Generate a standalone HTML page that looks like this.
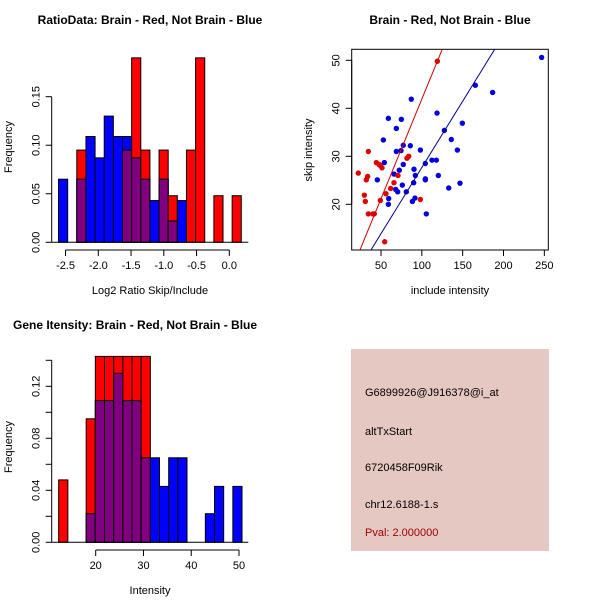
<!DOCTYPE html>
<html><head><meta charset="utf-8"><style>
html,body{margin:0;padding:0;background:#fff;}
svg{display:block;font-family:"Liberation Sans",sans-serif;}
</style></head><body>
<svg id="root" width="600" height="600" viewBox="0 0 600 600">
<g id="p1"></g>
<g id="p2"></g>
<g id="p3"></g>
<g id="p4">
<rect x="351" y="349" width="198" height="202" fill="#E6C8C2"/>
<text x="365" y="396" font-size="11">G6899926@J916378@i_at</text>
<text x="365" y="435" font-size="11">altTxStart</text>
<text x="365" y="471" font-size="11">6720458F09Rik</text>
<text x="365" y="508" font-size="11">chr12.6188-1.s</text>
<text x="365" y="536" font-size="11" fill="#A00000">Pval: 2.000000</text>
</g>
</svg>
<script>
// ---- data ----
const ratioBinStart = -2.607;
const ratioBinWidth = 0.1395;
const ratioBlue = [0.065,0,0.065,0.109,0.087,0.130,0.109,0.109,0.087,0.065,0.043,0.065,0.022,0.043,0,0,0,0,0,0];
const ratioRed  = [0,0,0.095,0,0,0,0,0.095,0.19,0.095,0,0.095,0.048,0,0.095,0.19,0,0.048,0,0.048];
const ratioXTicks = [-2.5,-2.0,-1.5,-1.0,-0.5,0.0];
const ratioXLabels = ["-2.5","-2.0","-1.5","-1.0","-0.5","0.0"];
const ratioYTicks = [0,0.05,0.10,0.15];
const ratioYLabels = ["0.00","0.05","0.10","0.15"];

const geneBinStart = 12.25;
const geneBinWidth = 1.919;
const geneBlue = [0,0,0,0.022,0.109,0.109,0.130,0.109,0.109,0.065,0.065,0.043,0.065,0.065,0,0,0.022,0.043,0,0.043];
const geneRed  = [0.048,0,0,0.095,0.143,0.143,0.143,0.143,0.143,0.143,0,0,0,0,0,0,0,0,0,0];
const geneXTicks = [20,30,40,50];
const geneYTicks = [0,0.02,0.04,0.06,0.08,0.10,0.12,0.14];
const geneYLabels = {"0":"0.00","0.04":"0.04","0.08":"0.08","0.12":"0.12"};

const redX = [22.2,29.6,30.8,34.5,32.0,33.7,34.5,40.2,41.8,44.3,47.6,49.2,51.2,49.2,56.1,54.5,61.8,65.9,70.8,81.8,83.9,98.2,119];
const redY = [26.5,21.9,20.6,31.0,25.1,25.8,18.0,18.0,18.0,28.7,28.3,28.1,27.6,20.8,22.2,12.2,23.3,24.5,26.0,29.6,30.0,21.0,49.8];
const blueX = [52.9,54.1,45.5,59.0,68.8,74.9,87.1,68.8,74.5,85.9,77.3,72.4,65.9,68.0,70.4,76.1,59.4,59.0,81.0,88.4,91.6,90.0,90.4,92.0,98.2,104.3,104.3,104.3,105.5,112.4,117.8,118.6,120.2,127.6,132.9,136.1,143.5,146.7,149.6,165.5,186.7,246.7,77.3];
const blueY = [33.4,28.7,25.1,37.9,35.8,37.7,41.9,31.0,31.2,32.2,28.3,27.1,26.3,23.1,22.6,24.0,21.2,20.0,22.6,20.6,21.3,24.5,27.3,26.0,31.3,28.5,25.3,25.1,18.0,29.2,29.2,39.0,26.0,35.4,23.4,33.5,31.3,24.4,36.9,44.8,43.3,50.6,32.3];
const redFit = [0.42,0.415];   // intercept, slope
const blueFit = [0.07,0.276];
const scXTicks = [50,100,150,200,250];
const scYTicks = [20,30,40,50];

const NS="http://www.w3.org/2000/svg";
function mk(parent,tag,attrs,text){const e=document.createElementNS(NS,tag);for(const k in attrs)e.setAttribute(k,attrs[k]);if(text!==undefined)e.textContent=text;parent.appendChild(e);return e;}

function histogram(g,cfg){
  const sx=v=>cfg.x0px+(v-cfg.x0v)*cfg.kx;
  const sy=v=>cfg.y0px-v*cfg.ky;
  const n=cfg.blue.length;
  for(let i=0;i<n;i++){
    const a=cfg.start+i*cfg.w,b=a+cfg.w;
    const bv=cfg.blue[i],rv=cfg.red[i];
    const draw=(v,col,nm)=>{if(v<=0)return;const r=mk(g,'rect',{x:sx(a),y:sy(v),width:sx(b)-sx(a),height:sy(0)-sy(v),fill:col,stroke:'#000','stroke-width':1});
      
      };
    draw(bv,'#0000FF','bar-blue-'+i);
    draw(rv,'#FF0000','bar-red-'+i);
    draw(Math.min(bv,rv),'#800080','bar-overlap-'+i);
  }
  const l=mk(g,'line',{x1:cfg.left,x2:cfg.right,y1:sy(0),y2:sy(0),stroke:'#000'});
  
  
}
function yAxis(g,x,ticks,sy,labels,name){
  const ax=mk(g,'g',{});
  
  
  mk(ax,'line',{x1:x,x2:x,y1:sy(ticks[0]),y2:sy(ticks[ticks.length-1]),stroke:'#000'});
  ticks.forEach((t,i)=>{const y=sy(t);mk(ax,'line',{x1:x-6,x2:x,y1:y,y2:y,stroke:'#000'});
    const lab=labels(t,i);if(lab){const tx=mk(ax,'text',{x:x-12,y:y,'font-size':11,'text-anchor':'middle',transform:`rotate(-90 ${x-12} ${y})`},lab);
      
      }});
}
function xAxis(g,y,ticks,sx,labels,name){
  const ax=mk(g,'g',{});
  
  
  mk(ax,'line',{x1:sx(ticks[0]),x2:sx(ticks[ticks.length-1]),y1:y,y2:y,stroke:'#000'});
  ticks.forEach((t,i)=>{const x=sx(t);mk(ax,'line',{x1:x,x2:x,y1:y,y2:y+6,stroke:'#000'});
    const tx=mk(ax,'text',{x:x,y:y+19,'font-size':11,'text-anchor':'middle'},labels[i]);
    
    });
}
function label(g,x,y,txt,name,opts){
  const t=mk(g,'text',Object.assign({x:x,y:y,'font-size':11,'text-anchor':'middle'},opts||{}),txt);
  
  
}

// ---- panel 1 ----
(function(){
  const g=document.getElementById('p1');
  const c={x0v:0,x0px:229.3,kx:65.5,y0px:242.3,ky:970.7,start:ratioBinStart,w:ratioBinWidth,blue:ratioBlue,red:ratioRed,left:51.7,right:248.3};
  histogram(g,c);
  yAxis(g,51.7,ratioYTicks,v=>c.y0px-v*c.ky,(t,i)=>ratioYLabels[i],'y-axis');
  xAxis(g,250,ratioXTicks,v=>c.x0px+v*c.kx,ratioXLabels,'x-axis');
  label(g,150,24,'RatioData: Brain - Red, Not Brain - Blue','title',{'font-weight':'bold','font-size':12});
  label(g,150,294,'Log2 Ratio Skip/Include','x-axis-title');
  label(g,12,147,'Frequency','y-axis-title',{transform:'rotate(-90 12 147)'});
})();

// ---- panel 2 ----
(function(){
  const g=document.getElementById('p2');
  const L=351.7,R=548.3,T=49.3,B=250;
  const sx=v=>381+(v-50)*0.8167, sy=v=>60.3-(v-50)*4.8;
  const cp=mk(g,'clipPath',{id:'clip2'});mk(cp,'rect',{x:L,y:T,width:R-L,height:B-T});
  const box=mk(g,'rect',{x:L,y:T,width:R-L,height:B-T,fill:'none',stroke:'#000'});
  
  
  blueX.forEach((x,i)=>{const c=mk(g,'circle',{cx:sx(x),cy:sy(blueY[i]),r:2.7,fill:'#0000E0'});
    
    });
  redX.forEach((x,i)=>{const c=mk(g,'circle',{cx:sx(x),cy:sy(redY[i]),r:2.7,fill:'#E00000'});
    
    });
  const lg=mk(g,'g',{'clip-path':'url(#clip2)'});
  const fit=(f,col,nm)=>{const x1=0,x2=300;const l=mk(lg,'line',{x1:sx(x1),y1:sy(f[0]+f[1]*x1),x2:sx(x2),y2:sy(f[0]+f[1]*x2),stroke:col,'stroke-width':1});
    
    };
  fit(redFit,'#D00000','fit-line-red');
  fit(blueFit,'#00008B','fit-line-blue');
  yAxis(g,L,scYTicks,sy,(t)=>String(t),'y-axis');
  xAxis(g,B,scXTicks,sx,scXTicks.map(String),'x-axis');
  label(g,450,24,'Brain - Red, Not Brain - Blue','title',{'font-weight':'bold','font-size':12});
  label(g,450,294,'include intensity','x-axis-title');
  label(g,312,150,'skip intensity','y-axis-title',{transform:'rotate(-90 312 150)'});
})();

// ---- panel 3 ----
(function(){
  const g=document.getElementById('p3');
  const c={x0v:20,x0px:95.7,kx:4.777,y0px:542.3,ky:1300,start:geneBinStart,w:geneBinWidth,blue:geneBlue,red:geneRed,left:51.7,right:248.3};
  histogram(g,c);
  yAxis(g,51.7,geneYTicks,v=>c.y0px-v*c.ky,(t)=>geneYLabels[String(+t.toFixed(2))],'y-axis');
  xAxis(g,550,geneXTicks,v=>c.x0px+(v-20)*c.kx,geneXTicks.map(String),'x-axis');
  label(g,13,329,'Gene Itensity: Brain - Red, Not Brain - Blue','title',{'font-weight':'bold','font-size':12,'text-anchor':'start'});
  label(g,150,594,'Intensity','x-axis-title');
  label(g,12,447,'Frequency','y-axis-title',{transform:'rotate(-90 12 447)'});
})();
</script>
</body></html>
